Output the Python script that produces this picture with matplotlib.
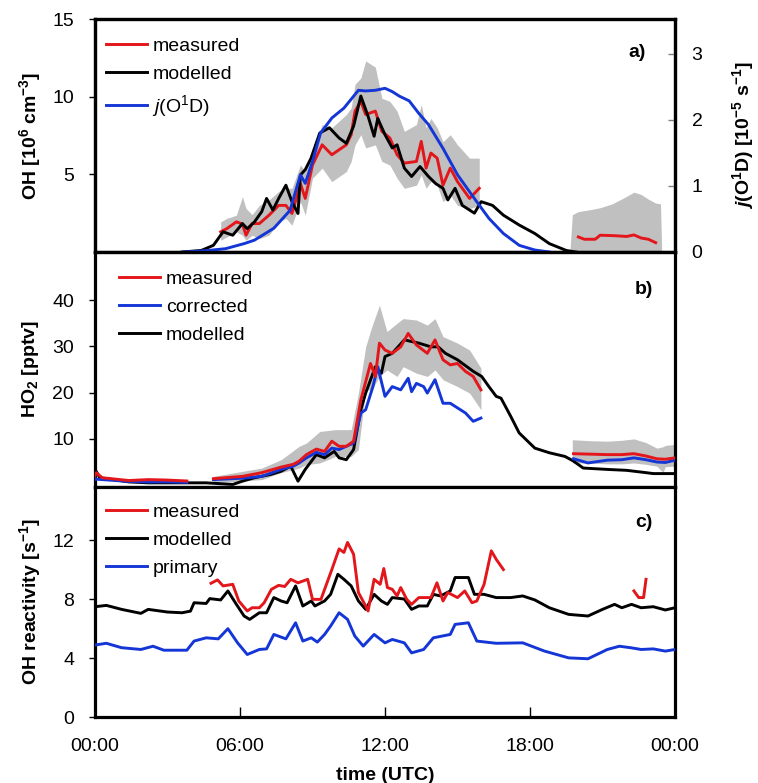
import numpy as np
import matplotlib
matplotlib.use('Agg')
import matplotlib.pyplot as plt

plt.rcParams['font.family'] = ['Liberation Sans', 'DejaVu Sans']
plt.rcParams['mathtext.fontset'] = 'custom'
plt.rcParams['mathtext.rm'] = 'Liberation Sans'
plt.rcParams['mathtext.it'] = 'Liberation Sans:italic'
plt.rcParams['mathtext.bf'] = 'Liberation Sans:bold'
plt.rcParams['mathtext.bfit'] = 'Liberation Sans:italic:bold'
plt.rcParams['mathtext.default'] = 'regular'

nan = np.nan

# ---------------- panel a: OH and j(O1D) ----------------
oh_meas_t = [5.2, 5.45, 5.85, 6.1, 6.25, 6.5, 6.8, 7.2, 7.6, 7.9, 8.15, 8.5, 8.7, 9.0, 9.4, 9.8,
             10.4, 10.6, 10.76, 11.0, 11.2, 11.6, 11.87, 12.2, 12.5, 12.8, 13.3, 13.5, 13.7, 13.9,
             14.16, 14.4, 14.7, 15.0, 15.5, 15.9]
oh_meas = [1.3, 1.5, 1.94, 1.8, 1.08, 1.83, 1.83, 2.37, 3.0, 3.0, 2.48, 4.4, 3.45, 5.6, 6.9, 6.26,
           6.9, 7.55, 9.07, 9.7, 8.85, 9.07, 7.77, 7.34, 6.26, 5.72, 5.83, 7.12, 5.4, 6.37,
           6.04, 4.3, 5.4, 4.53, 3.45, 4.1]
oh_meas_hi = [1.94, 2.16, 2.37, 3.56, 2.8, 2.4, 3.0, 3.35, 3.9, 4.1, 4.1, 5.6, 5.2, 6.7, 8.2, 8.0,
              8.85, 9.28, 10.8, 11.2, 12.3, 11.9, 9.9, 9.7, 9.07, 7.77, 8.2, 9.5, 8.0, 8.6,
              8.0, 7.1, 7.55, 6.9, 6.04, 6.04]
oh_meas_lo = [0.75, 0.97, 1.3, 1.08, 0.75, 1.08, 0.86, 1.08, 1.94, 2.16, 1.73, 3.24, 2.37, 4.75, 5.4, 4.53,
              5.18, 5.83, 6.9, 7.55, 6.7, 6.9, 5.83, 5.6, 4.75, 4.1, 4.3, 4.96, 4.1, 4.53,
              4.3, 3.24, 3.67, 3.0, 2.8, 3.0]

oh_night_t = [20.0, 20.25, 20.7, 20.9, 21.5, 22.0, 22.3, 22.6, 22.9, 23.2]
oh_night = [0.97, 0.82, 0.82, 1.08, 1.05, 1.0, 1.1, 0.9, 0.82, 0.6]
oh_night_band_t = [19.65, 19.75, 20.0, 20.4, 20.9, 21.4, 21.9, 22.3, 22.6, 22.9, 23.2, 23.4, 23.45]
oh_night_hi = [0.0, 2.4, 2.6, 2.7, 2.85, 3.1, 3.5, 3.85, 3.7, 3.4, 3.15, 3.1, 0.0]
oh_night_lo = [0.0, 0.0, 0.0, 0.0, 0.0, 0.0, 0.0, 0.0, 0.0, 0.0, 0.0, 0.0, 0.0]

oh_mod_t = [3.6, 4.4, 4.9, 5.3, 5.7, 6.1, 6.3, 6.6, 6.9, 7.1, 7.36, 7.6, 7.9, 8.15, 8.4, 8.5, 8.7, 8.94,
            9.3, 9.7, 10.1, 10.4, 10.7, 11.0, 11.3, 11.55, 11.7, 12.0, 12.3, 12.5, 12.8, 13.1, 13.45,
            13.8, 14.1, 14.4, 14.6, 14.9, 15.2, 15.7, 15.98, 16.45, 16.9, 17.56, 18.2, 18.8, 19.5, 19.9]
oh_mod = [0, 0.1, 0.43, 1.3, 1.08, 1.83, 1.5, 1.94, 2.6, 3.45, 2.7, 3.45, 4.3, 3.24, 2.48, 4.96, 5.3, 6.04,
          7.66, 8.0, 7.34, 7.0, 8.1, 10.04, 8.74, 7.45, 8.6, 7.55, 6.7, 6.9, 5.4, 4.86, 5.5,
          4.86, 4.4, 4.1, 3.35, 4.1, 3.0, 2.5, 3.24, 3.0, 2.37, 1.73, 1.19, 0.54, 0.1, 0]

j_t = [3.7, 4.6, 5.4, 6.2, 6.6, 7.4, 8.07, 8.5, 8.7, 9.0, 9.33, 9.8, 10.3, 10.9, 11.2, 11.6, 12.0, 12.3,
       12.6, 13.0, 13.4, 13.8, 14.4, 15.0, 15.7, 16.3, 16.9, 17.56, 18.2, 18.8]
j_o1d = [0, 0.02, 0.05, 0.13, 0.18, 0.36, 0.63, 1.17, 1.04, 1.37, 1.8, 2.03, 2.18, 2.45, 2.44, 2.45, 2.48, 2.43,
         2.36, 2.29, 2.1, 1.93, 1.57, 1.17, 0.81, 0.51, 0.28, 0.1, 0.03, 0]

# ---------------- panel b: HO2 ----------------
ho2_meas_t = [0.0, 0.05, 0.3, 1.4, 2.2, 3.0, 3.8, 4.3,
              4.9, 6.1, 6.9, 7.7, 8.2, 8.45, 8.75, 9.16, 9.5, 9.8, 10.1, 10.4, 10.7, 11.0, 11.4, 11.6,
              11.77, 12.0, 12.3, 12.65, 12.96, 13.3, 13.75, 14.07, 14.4, 14.7, 15.0, 15.33, 15.65, 15.97,
              17.0, 19.8, 20.5, 21.2, 21.8, 22.3, 22.8, 23.25, 23.6, 24.0]
ho2_meas = [2.0, 2.7, 1.6, 1.0, 1.2, 1.1, 0.9, nan,
            1.4, 1.9, 2.7, 3.9, 4.5, 5.2, 6.6, 7.8, 7.3, 9.5, 8.4, 8.4, 9.5, 18.4, 26.3, 23.5,
            30.7, 29.2, 28.5, 29.9, 32.8, 30.3, 28.5, 31.4, 27.1, 26.0, 26.3, 24.6, 23.5, 20.6,
            nan, 6.8, 6.7, 6.6, 6.6, 6.8, 6.3, 5.7, 5.6, 5.9]

ho2_corr_t = [0.0, 0.05, 0.3, 1.4, 2.2, 3.0, 3.8, 4.3,
              4.9, 6.1, 6.9, 7.7, 8.2, 8.45, 8.75, 9.16, 9.5, 9.8, 10.1, 10.4, 10.7, 11.0, 11.2, 11.5,
              11.7, 12.0, 12.3, 12.65, 12.96, 13.1, 13.3, 13.6, 13.75, 14.07, 14.4, 14.7, 15.0, 15.33,
              15.65, 15.97,
              17.0, 19.8, 20.4, 21.2, 21.8, 22.3, 22.8, 23.25, 23.6, 24.0]
ho2_corr = [1.2, 1.3, 1.2, 0.8, 0.7, 0.7, 0.6, nan,
            1.2, 1.5, 1.9, 3.4, 4.1, 4.8, 5.9, 7.1, 6.6, 8.0, 7.7, 8.4, 9.1, 15.6, 16.3, 21.3,
            25.6, 19.2, 21.3, 20.6, 23.1, 20.2, 22.0, 21.3, 19.9, 22.8, 17.7, 17.7, 16.7, 15.6,
            13.8, 14.5,
            nan, 5.7, 4.8, 5.4, 5.5, 5.9, 5.5, 5.0, 4.9, 5.4]

ho2_band_t = [4.9, 6.9, 7.7, 8.45, 8.75, 9.3, 9.95, 10.6, 10.9, 11.2, 11.45, 11.77, 12.08, 12.5, 12.75,
              13.3, 13.75, 14.07, 14.4, 15.0, 15.5, 15.97]
ho2_band_hi = [1.9, 3.7, 5.5, 8.4, 9.1, 11.6, 12.0, 12.0, 19.9, 29.9, 34.2, 38.9, 33.2, 35.0, 36.0,
               35.7, 34.6, 36.0, 32.1, 30.7, 29.2, 25.3]
ho2_band_lo = [0.5, 1.2, 2.7, 3.7, 4.45, 4.8, 6.2, 6.2, 7.7, 20.6, 20.6, 23.5, 24.9, 23.5, 25.6,
               24.2, 23.5, 24.9, 22.8, 21.3, 19.9, 16.3]
ho2_nband_t = [19.75, 19.8, 20.5, 21.2, 21.8, 22.3, 22.8, 23.25, 23.5, 23.6, 24.0]
ho2_nband_hi = [9.8, 9.8, 9.6, 9.5, 9.7, 10.0, 9.2, 8.0, 8.3, 8.6, 8.8]
ho2_nband_lo = [4.8, 4.8, 4.8, 4.6, 4.6, 4.8, 4.5, 4.1, 2.8, 4.0, 4.1]

ho2_mod_t = [0.0, 0.05, 0.2, 0.76, 1.4, 2.2, 3.8, 4.6, 5.7, 6.1, 6.6, 7.26, 7.7, 8.1, 8.4, 8.7, 9.16, 9.5,
             9.9, 10.1, 10.4, 10.7, 11.0, 11.2, 11.6, 11.85, 12.0, 12.3, 12.8, 13.4, 13.9, 14.2, 14.5,
             15.0, 15.65, 16.0, 16.3, 16.6, 16.8, 17.2, 17.55, 18.2, 18.8, 19.45, 19.8, 20.2, 21.2,
             22.0, 22.8, 23.1, 24.0]
ho2_mod = [2.0, 3.0, 1.6, 1.2, 0.7, 0.5, 0.5, 0.5, 0.15, 0.86, 1.6, 2.3, 3.0, 4.1, 0.86, 3.4, 6.6, 5.9,
           7.3, 5.9, 5.5, 7.7, 16.3, 19.9, 25.6, 24.2, 27.8, 28.5, 31.4, 30.7, 29.9, 29.9, 28.5,
           27.1, 24.6, 23.5, 21.3, 19.2, 18.8, 14.9, 11.3, 8.0, 7.0, 6.2, 5.2, 3.7, 3.4,
           3.2, 2.7, 2.5, 2.5]

# ---------------- panel c: OH reactivity ----------------
k_meas_t = [4.8, 5.07, 5.3, 5.7, 5.95, 6.3, 6.5, 6.8, 7.0, 7.3, 7.6, 7.85, 8.1, 8.4, 8.8, 9.0, 9.35, 9.8,
            10.1, 10.3, 10.45, 10.7, 10.9, 11.2, 11.3, 11.55, 11.8, 11.95, 12.1, 12.3, 12.5, 12.65,
            12.9, 13.1, 13.4, 13.9, 14.15, 14.4, 14.6, 15.0, 15.3, 15.6, 15.8, 16.1, 16.4, 16.6, 16.9,
            19.0, 22.3, 22.5, 22.7, 22.8]
k_meas = [9.07, 9.3, 8.89, 9.0, 7.87, 7.19, 7.41, 7.41, 7.75, 8.66, 8.93, 8.85, 9.34, 9.1, 9.34, 7.98, 7.98, 10.0,
          11.4, 11.16, 11.84, 11.04, 8.44, 7.53, 7.19, 9.34, 9.0, 10.07, 8.78, 8.66, 8.21, 8.78,
          7.98, 7.64, 8.1, 8.1, 9.1, 7.87, 8.44, 8.1, 8.55, 7.75, 7.87, 9.0, 11.27, 10.7, 10.0,
          nan, 8.55, 8.1, 8.1, 9.34]

k_mod_t = [0, 0.47, 1.1, 1.9, 2.2, 3.0, 3.6, 3.95, 4.1, 4.6, 4.75, 5.2, 5.5, 5.85, 6.17, 6.4, 6.8, 7.1, 7.4,
           7.7, 7.95, 8.3, 8.6, 8.95, 9.1, 9.5, 9.75, 10.05, 10.3, 10.6, 10.9, 11.2, 11.55, 11.85, 12.1,
           12.3, 12.8, 13.1, 13.4, 13.75, 14.0, 14.3, 14.7, 14.9, 15.45, 15.7, 16.1, 16.6, 17.2, 17.7,
           18.2, 18.8, 19.6, 20.4, 21.0, 21.5, 21.8, 22.2, 22.6, 23.1, 23.6, 24.0]
k_mod = [7.48, 7.57, 7.3, 7.03, 7.3, 7.12, 7.07, 7.18, 7.75, 7.7, 8.03, 7.94, 8.55, 7.64, 6.85, 6.62, 7.07,
         7.07, 8.1, 7.87, 7.75, 8.89, 7.53, 7.87, 7.53, 7.87, 8.32, 9.68, 9.34, 8.89, 7.87, 7.3, 8.32,
         7.87, 7.64, 8.1, 8.0, 7.3, 7.53, 7.53, 8.32, 8.21, 8.55, 9.46, 9.46, 8.32, 8.32, 8.1, 8.1,
         8.21, 7.94, 7.41, 6.96, 6.85, 7.3, 7.64, 7.41, 7.64, 7.41, 7.48, 7.26, 7.41]

k_prim_t = [0, 0.47, 1.1, 1.9, 2.4, 2.85, 3.8, 4.1, 4.6, 5.1, 5.5, 5.9, 6.3, 6.8, 7.1, 7.4, 7.9, 8.3, 8.6,
            8.95, 9.2, 9.5, 9.75, 10.1, 10.45, 10.75, 11.1, 11.55, 12.0, 12.3, 12.8, 13.1, 13.6, 14.0,
            14.7, 14.9, 15.45, 15.8, 16.6, 17.7, 18.6, 19.6, 20.4, 21.2, 21.7, 22.2, 22.6, 23.1, 23.6, 24.0]
k_prim = [4.88, 5.0, 4.7, 4.58, 4.8, 4.53, 4.53, 5.15, 5.37, 5.3, 5.99, 5.03, 4.24, 4.58, 4.62, 5.6, 5.3,
          6.39, 5.15, 5.37, 5.08, 5.6, 6.17, 7.07, 6.62, 5.49, 4.81, 5.6, 5.03, 5.26, 5.03, 4.35, 4.58,
          5.37, 5.6, 6.28, 6.39, 5.15, 5.0, 5.03, 4.47, 4.01, 3.95, 4.58, 4.8, 4.69, 4.58, 4.62, 4.47, 4.58]

x_ticks = [0, 6, 12, 18, 24]
x_ticklabels = ['00:00', '06:00', '12:00', '18:00', '00:00']

# ---------------- styling ----------------
RED = '#e3161b'
BLUE = '#1436d6'
BLACK = '#000000'
GRAY = '#c0c0c0'
LW = 2.1
FS = 14
W, H = 758, 783

fig = plt.figure(figsize=(W / 100, H / 100), dpi=100)
L = 95 / W
AW = 580 / W


def make_ax(top, bot):
    return fig.add_axes([L, 1 - bot / H, AW, (bot - top) / H])


ax_a = make_ax(19, 252)
ax_b = make_ax(252, 487)
ax_c = make_ax(487, 717)

for ax in (ax_a, ax_b, ax_c):
    for s in ax.spines.values():
        s.set_linewidth(2.3)
        s.set_color('black')
    ax.set_xlim(0, 24)
    ax.set_xticks(x_ticks)
    ax.tick_params(axis='y', direction='out', length=4, width=1, pad=11, labelsize=FS)

ax_a.tick_params(axis='x', bottom=False, labelbottom=False)
ax_b.tick_params(axis='x', bottom=False, labelbottom=False)
ax_c.tick_params(axis='x', direction='in', length=7, width=1, pad=15, labelsize=FS)
ax_c.set_xticklabels(x_ticklabels)

LEG = dict(loc='upper left', frameon=False, fontsize=FS, handlelength=2.1, handletextpad=0.3,
           labelspacing=0.52, borderaxespad=0.0)


def place_ylabel(ax, x):
    ax.yaxis.set_label_coords(x, 0.5)
    ax.yaxis.label.set_verticalalignment('center')
    ax.yaxis.label.set_horizontalalignment('center')


# panel a
ax_a.fill_between(oh_meas_t, oh_meas_lo, oh_meas_hi, color=GRAY, lw=0, zorder=1)
ax_a.fill_between(oh_night_band_t, oh_night_lo, oh_night_hi, color=GRAY, lw=0, zorder=1)
l_meas, = ax_a.plot(oh_meas_t, oh_meas, color=RED, lw=LW, zorder=3, label='measured')
ax_a.plot(oh_night_t, oh_night, color=RED, lw=LW, zorder=3)
l_mod, = ax_a.plot(oh_mod_t, oh_mod, color=BLACK, lw=LW, zorder=3, label='modelled')
ax_a.set_ylim(0, 15)
ax_a.set_yticks([5, 10, 15])
ax_a.set_ylabel(r'OH [10$^{6}$ cm$^{-3}$]', fontsize=FS, fontweight='bold')
place_ylabel(ax_a, -0.112)

ax_j = ax_a.twinx()
ax_j.set_position(ax_a.get_position())
l_j, = ax_j.plot(j_t, j_o1d, color=BLUE, lw=LW, label=r'$\mathit{j}$(O$^{1}$D)')
ax_j.set_ylim(0, 3.53)
ax_j.set_yticks([0, 1, 2, 3])
ax_j.tick_params(axis='y', direction='in', length=5, width=1, color='#808080', pad=12, labelsize=FS)
for s in ax_j.spines.values():
    s.set_linewidth(2.3)
ax_j.set_ylabel(r'$\mathbfit{j}$(O$^{1}$D) [10$^{-5}$ s$^{-1}$]', fontsize=FS, fontweight='bold',
                rotation=90)
place_ylabel(ax_j, 1.117)
ax_j.legend(handles=[l_meas, l_mod, l_j], bbox_to_anchor=(0.005, 0.955), **LEG)
ax_j.text(0.935, 0.855, 'a)', transform=ax_a.transAxes, fontsize=FS, fontweight='bold',
          ha='center', va='center')

# panel b
ax_b.fill_between(ho2_band_t, ho2_band_lo, ho2_band_hi, color=GRAY, lw=0, zorder=1)
ax_b.fill_between(ho2_nband_t, ho2_nband_lo, ho2_nband_hi, color=GRAY, lw=0, zorder=1)
lb_mod, = ax_b.plot(ho2_mod_t, ho2_mod, color=BLACK, lw=LW, zorder=3, label='modelled')
lb_corr, = ax_b.plot(ho2_corr_t, ho2_corr, color=BLUE, lw=LW, zorder=4, label='corrected')
lb_meas, = ax_b.plot(ho2_meas_t, ho2_meas, color=RED, lw=LW, zorder=5, label='measured')
ax_b.set_ylim(-0.4, 50.4)
ax_b.set_yticks([10, 20, 30, 40])
ax_b.set_ylabel(r'HO$_{2}$ [pptv]', fontsize=FS, fontweight='bold')
place_ylabel(ax_b, -0.112)
ax_b.legend(handles=[lb_meas, lb_corr, lb_mod], bbox_to_anchor=(0.028, 0.954), **LEG)
ax_b.text(0.946, 0.84, 'b)', transform=ax_b.transAxes, fontsize=FS, fontweight='bold',
          ha='center', va='center')

# panel c
lc_prim, = ax_c.plot(k_prim_t, k_prim, color=BLUE, lw=LW, zorder=3, label='primary')
lc_mod, = ax_c.plot(k_mod_t, k_mod, color=BLACK, lw=LW, zorder=4, label='modelled')
lc_meas, = ax_c.plot(k_meas_t, k_meas, color=RED, lw=LW, zorder=5, label='measured')
ax_c.set_ylim(0, 15.6)
ax_c.set_yticks([0, 4, 8, 12])
ax_c.set_ylabel(r'OH reactivity [s$^{-1}$]', fontsize=FS, fontweight='bold')
place_ylabel(ax_c, -0.112)
ax_c.set_xlabel('time (UTC)', fontsize=FS, fontweight='bold', labelpad=9)
ax_c.legend(handles=[lc_meas, lc_mod, lc_prim], bbox_to_anchor=(0.005, 0.962), **LEG)
ax_c.text(0.946, 0.846, 'c)', transform=ax_c.transAxes, fontsize=FS, fontweight='bold',
          ha='center', va='center')

fig.savefig('out.png', dpi=100)
